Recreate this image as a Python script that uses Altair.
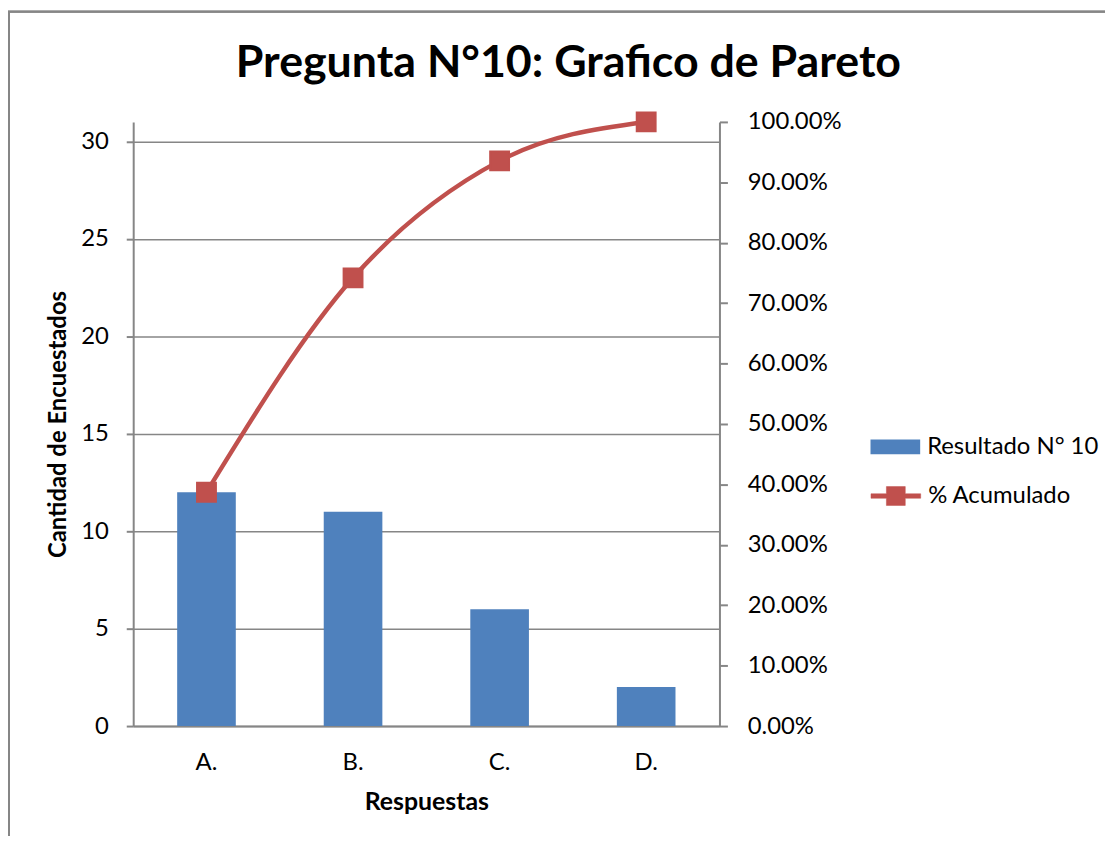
import altair as alt
import pandas as pd

categories = ["A.", "B.", "C.", "D."]
counts = [12, 11, 6, 2]
cum_pct = [0.3871, 0.7419, 0.9355, 1.0]

bar_name = "Resultado N° 10"
line_name = "% Acumulado"

df = pd.DataFrame({"cat": categories, "n": counts, "pct": cum_pct})

FONT = "Lato"
GRAY = "#868686"
BLUE = "#4F81BD"
RED = "#C0504D"

W, H = 590, 608
PAD = {"left": 126, "top": 112, "right": 388, "bottom": 108}

x_enc = alt.X("cat:N", sort=categories,
              scale=alt.Scale(paddingInner=0.6, paddingOuter=0.3),
              axis=alt.Axis(title="Respuestas", labelAngle=0, ticks=False,
                            labelPadding=25, titlePadding=15,
                            labelFontSize=24, titleFontSize=25,
                            titleFontWeight="bold", domainColor=GRAY,
                            domainWidth=2))

LINE_SYM = "M-1,-0.09H-0.38V-0.38H0.38V-0.09H1V0.09H0.38V0.38H-0.38V0.09H-1Z"
BAR_SYM = "M-1,-0.3H1V0.3H-1Z"

bar_legend = alt.Legend(title=None, orient="none", legendX=742, legendY=302,
                        symbolSize=2500, labelFontSize=24, labelFont=FONT,
                        labelColor="black", labelOffset=7, padding=0,
                        labelLimit=400,
                        symbolType=BAR_SYM, symbolStrokeWidth=0,
                        symbolOpacity=1)

line_legend = alt.Legend(title=None, orient="none", legendX=742, legendY=351,
                         symbolSize=2500, labelFontSize=24, labelFont=FONT,
                         labelColor="black", labelOffset=7, padding=0,
                         labelLimit=400,
                         symbolType=LINE_SYM, symbolFillColor=RED,
                         symbolStrokeColor=RED, symbolStrokeWidth=0.5,
                         symbolOpacity=1)

bars = alt.Chart(df).mark_bar().encode(
    x=x_enc,
    y=alt.Y("n:Q", scale=alt.Scale(domain=[0, 31], nice=False),
            axis=alt.Axis(title="Cantidad de Encuestados",
                          values=[0, 5, 10, 15, 20, 25, 30],
                          grid=True, gridColor=GRAY, gridWidth=1.5,
                          tickSize=7, tickColor=GRAY, tickWidth=2,
                          domainColor=GRAY, domainWidth=2,
                          labelPadding=18, titlePadding=10,
                          labelFontSize=24, titleFontSize=24,
                          titleFontWeight="bold")),
    fill=alt.Fill("series:N", scale=alt.Scale(domain=[bar_name], range=[BLUE]),
                  legend=bar_legend),
).transform_calculate(series=f"'{bar_name}'")

y2 = alt.Y("pct:Q", scale=alt.Scale(domain=[0, 1], nice=False),
           axis=alt.Axis(title=None, orient="right", format=".2%",
                         values=[0, 0.1, 0.2, 0.3, 0.4, 0.5, 0.6, 0.7, 0.8, 0.9, 1.0],
                         grid=False, tickSize=8, tickColor=GRAY, tickWidth=2,
                         domainColor=GRAY, domainWidth=2, labelPadding=20,
                         labelFontSize=24))

line = alt.Chart(df).mark_line(
    strokeWidth=4.5, interpolate="monotone",
    point=alt.OverlayMarkDef(shape="square", filled=True, size=361,
                             color=RED, opacity=1),
).encode(
    x=alt.X("cat:N", sort=categories),
    y=y2,
    stroke=alt.Stroke("series:N", scale=alt.Scale(domain=[line_name], range=[RED]),
                      legend=line_legend),
).transform_calculate(series=f"'{line_name}'")

frame = alt.Chart(df).mark_rect(fill=None, stroke=GRAY, strokeWidth=2).encode(
    x=alt.value(-125), x2=alt.value(1200),
    y=alt.value(-111), y2=alt.value(1200),
)

chart = alt.layer(bars, line, frame).resolve_scale(y="independent").properties(
    width=W, height=H,
    title=alt.TitleParams("Pregunta N°10: Grafico de Pareto", fontSize=45,
                          font=FONT, fontWeight="bold", color="black",
                          anchor="middle", frame="group", dx=143, offset=-76),
    autosize=alt.AutoSizeParams(type="none"),
    padding=PAD,
).configure(font=FONT).configure_axis(
    labelFont=FONT, titleFont=FONT, labelColor="black", titleColor="black"
).configure_view(stroke=None)

chart.save("out.html", embed_options={"renderer": "svg", "actions": False})
